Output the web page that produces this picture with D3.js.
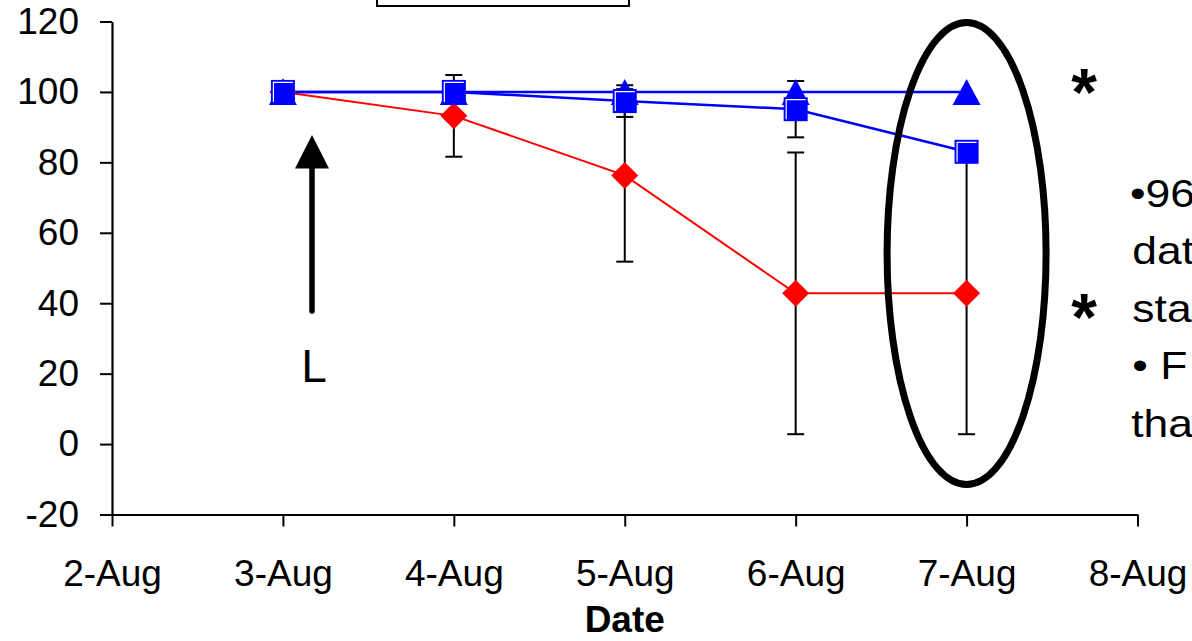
<!DOCTYPE html>
<html>
<head>
<meta charset="utf-8">
<script src="https://cdn.jsdelivr.net/npm/d3@7/dist/d3.min.js"></script>
<style>
  html, body { margin: 0; padding: 0; background: #fff; overflow: hidden; }
  svg { display: block; font-family: "Liberation Sans", Arial, sans-serif; }
</style>
</head>
<body>
<svg id="chart" width="1192" height="641"></svg>
<script>
// Survival (%) by date, three treatments, mean ± error
const days = [3, 4, 5, 6, 7];                 // August day of month
const redMean = [100, 93.2, 76.3, 42.8, 42.8];
const redErr  = [0, 11.6, 24.5, 40, 40];
const squareMean = [100, 100, 97.4, 95.1, 83];
const squareErr  = [0, 0, 4.5, 8, 0];
const triangleMean = [100, 100, 100, 100, 100];
const triangleErr  = [0, 0, 0, 0, 0];
const xTicks = [2, 3, 4, 5, 6, 7, 8];
const yTicks = [-20, 0, 20, 40, 60, 80, 100, 120];
const noteLines = ["•96", "dat", "sta", "• F", "tha"];

const svg = d3.select("#chart");

const x = d3.scaleLinear().domain([2, 8]).range([112, 1137.5]);
const y = d3.scaleLinear().domain([-20, 120]).range([514.5, 21.5]);

// Legend frame (mostly above the visible area)
svg.append("rect")
  .attr("x", 377).attr("y", -60).attr("width", 252).attr("height", 66)
  .attr("fill", "#fff").attr("stroke", "#000").attr("stroke-width", 2);

// Y axis
const yAxis = svg.append("g")
  .attr("transform", `translate(${x(2)},0)`)
  .call(d3.axisLeft(y).tickValues(yTicks).tickSize(12).tickSizeOuter(0).tickPadding(21)
    .tickFormat(d => String(d)));
yAxis.select(".domain").attr("stroke-width", 2.2);
yAxis.selectAll(".tick line").attr("stroke-width", 2);
yAxis.selectAll(".tick text")
  .attr("font-size", 37).attr("fill", "#000")
  .attr("font-family", "Liberation Sans, Arial, sans-serif");

// X axis
const xAxis = svg.append("g")
  .attr("transform", `translate(0,${y(-20)})`)
  .call(d3.axisBottom(x).tickValues(xTicks).tickSize(12).tickSizeOuter(0)
    .tickFormat(d => d + "-Aug"));
xAxis.select(".domain").attr("stroke-width", 2.2);
xAxis.selectAll(".tick line").attr("stroke-width", 2);
xAxis.selectAll(".tick text")
  .attr("dy", null).attr("y", 71)
  .attr("font-size", 37).attr("fill", "#000")
  .attr("font-family", "Liberation Sans, Arial, sans-serif");

svg.append("text")
  .attr("x", (x(2) + x(8)) / 2).attr("y", 632)
  .attr("text-anchor", "middle")
  .attr("font-size", 37).attr("font-weight", "bold")
  .text("Date");

// Series definitions built from the arrays above
const series = [
  { mean: redMean, err: redErr, color: "#ff0000", width: 2, shape: "diamond" },
  { mean: triangleMean, err: triangleErr, color: "#0000ff", width: 2.5, shape: "triangle" },
  { mean: squareMean, err: squareErr, color: "#0000ff", width: 2.5, shape: "square" }
];

// Error bars
const capHalf = 8.5;
series.forEach(s => {
  const g = svg.append("g").attr("stroke", "#000").attr("stroke-width", 2);
  days.forEach((d, i) => {
    if (!s.err[i]) return;
    const lo = y(s.mean[i] - s.err[i]), hi = y(s.mean[i] + s.err[i]), cx = x(d);
    g.append("line").attr("x1", cx).attr("x2", cx).attr("y1", lo).attr("y2", hi);
    g.append("line").attr("x1", cx - capHalf).attr("x2", cx + capHalf).attr("y1", lo).attr("y2", lo);
    g.append("line").attr("x1", cx - capHalf).attr("x2", cx + capHalf).attr("y1", hi).attr("y2", hi);
  });
});

// Lines
const line = d3.line().x(p => x(p[0])).y(p => y(p[1]));
series.forEach(s => {
  svg.append("path")
    .datum(days.map((d, i) => [d, s.mean[i]]))
    .attr("d", line)
    .attr("fill", "none")
    .attr("stroke", s.color)
    .attr("stroke-width", s.width);
});

// Markers
series.forEach(s => {
  const g = svg.append("g");
  days.forEach((d, i) => {
    const cx = x(d), cy = y(s.mean[i]);
    if (s.shape === "diamond") {
      g.append("path")
        .attr("d", `M${cx},${cy - 13.5}L${cx + 13.5},${cy}L${cx},${cy + 13.5}L${cx - 13.5},${cy}Z`)
        .attr("fill", s.color);
    } else if (s.shape === "triangle") {
      g.append("path")
        .attr("d", `M${cx},${cy - 13}L${cx + 14},${cy + 13}L${cx - 14},${cy + 13}Z`)
        .attr("fill", s.color);
    } else {
      const h = 12;
      g.append("rect")
        .attr("x", cx - h).attr("y", cy - h).attr("width", 2 * h).attr("height", 2 * h)
        .attr("fill", s.color);
      g.append("path")
        .attr("d", `M${cx - h + 2.5},${cy + h - 2}V${cy - h + 2.5}H${cx + h - 2}`)
        .attr("fill", "none").attr("stroke", "#fff").attr("stroke-width", 1.2);
    }
  });
});

// Ellipse around the final date
svg.append("ellipse")
  .attr("cx", x(7)).attr("cy", 253.5)
  .attr("rx", 79.5).attr("ry", 231)
  .attr("fill", "none").attr("stroke", "#000").attr("stroke-width", 7);

// Arrow marking "L"
svg.append("line")
  .attr("x1", 312).attr("x2", 312).attr("y1", 311).attr("y2", 160)
  .attr("stroke", "#000").attr("stroke-width", 5.5).attr("stroke-linecap", "round");
svg.append("path")
  .attr("d", "M312,135L329,168.5L295,168.5Z")
  .attr("fill", "#000");
svg.append("text")
  .attr("x", 314).attr("y", 382)
  .attr("text-anchor", "middle")
  .attr("font-size", 46)
  .text("L");

// Significance asterisks
svg.append("text").attr("x", 1084).attr("y", 115)
  .attr("text-anchor", "middle").attr("font-size", 66).attr("font-weight", "bold")
  .text("*");
svg.append("text").attr("x", 1084).attr("y", 340)
  .attr("text-anchor", "middle").attr("font-size", 66).attr("font-weight", "bold")
  .text("*");

// Side notes (slightly wide lettering, running off the right edge)
const noteX = [0, 2, 2, 2, 1];
svg.append("g")
  .attr("transform", "translate(1130,0) scale(1.17,1)")
  .selectAll("text")
  .data(noteLines)
  .join("text")
  .attr("x", (d, i) => noteX[i])
  .attr("y", (d, i) => 207 + i * 57.5)
  .attr("font-size", 38)
  .text(d => d);
</script>
</body>
</html>
